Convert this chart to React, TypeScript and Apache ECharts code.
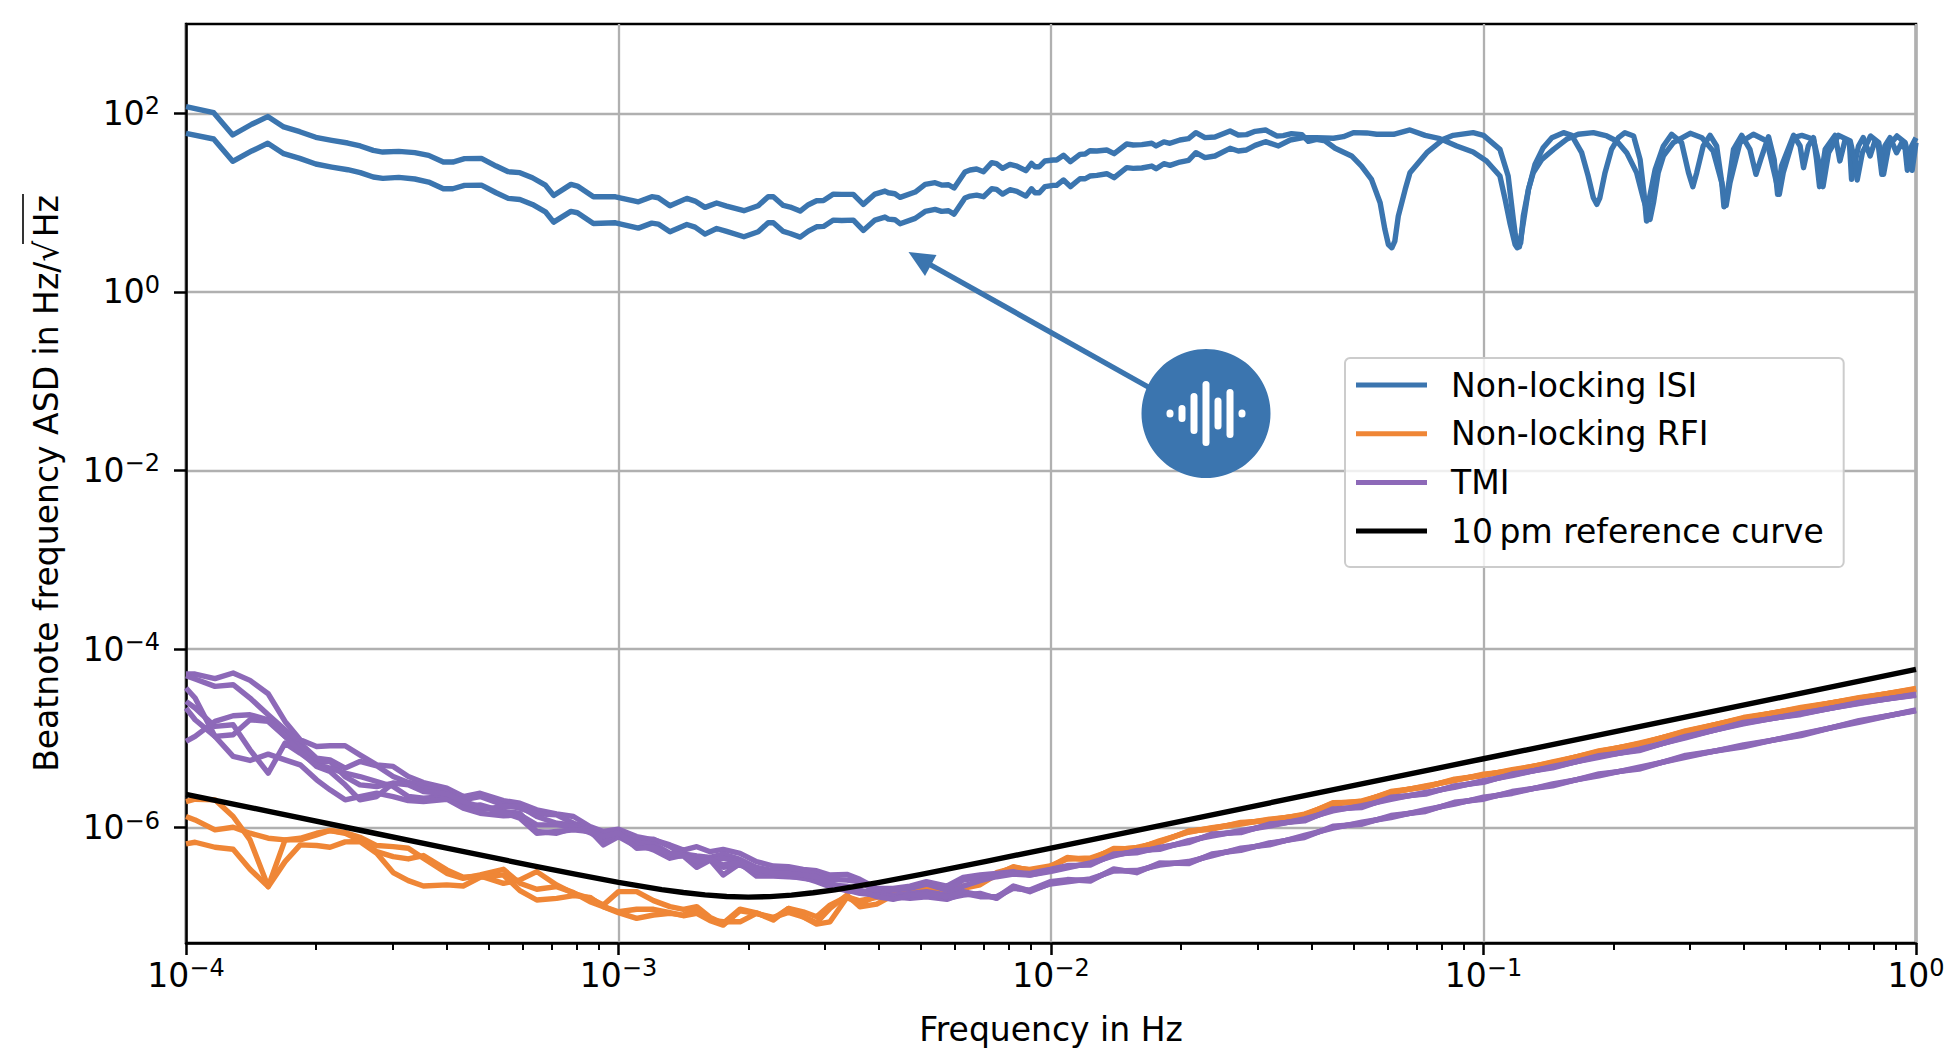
import React, { useEffect, useRef } from "react";
import * as echarts from "echarts";

// all curves as log10(frequency), log10(ASD)
const isiUpper: number[][] = [
  [-4.0, 2.075], [-3.936, 2.007], [-3.892, 1.757], [-3.848, 1.877], [-3.811, 1.963], [-3.774, 1.847], [-3.737, 1.794], [-3.7, 1.731],
  [-3.663, 1.697], [-3.626, 1.667], [-3.597, 1.634], [-3.567, 1.585], [-3.545, 1.566], [-3.508, 1.574], [-3.471, 1.559], [-3.439, 1.529],
  [-3.405, 1.454], [-3.383, 1.454], [-3.356, 1.492], [-3.317, 1.495], [-3.283, 1.409], [-3.255, 1.346], [-3.228, 1.335], [-3.199, 1.278],
  [-3.169, 1.196], [-3.15, 1.08], [-3.11, 1.204], [-3.095, 1.185], [-3.058, 1.065], [-3.007, 1.065],
  [-2.954, 1.009], [-2.923, 1.066], [-2.908, 1.054], [-2.881, 0.965], [-2.842, 1.047], [-2.823, 1.017], [-2.8, 0.946], [-2.773, 0.995],
  [-2.75, 0.961], [-2.71, 0.909], [-2.677, 0.965], [-2.654, 1.066], [-2.642, 1.066], [-2.619, 0.968], [-2.603, 0.95], [-2.58, 0.905],
  [-2.561, 0.976], [-2.542, 1.021], [-2.526, 1.024], [-2.503, 1.095], [-2.484, 1.092], [-2.457, 1.092], [-2.434, 0.98], [-2.407, 1.095],
  [-2.384, 1.129], [-2.376, 1.11], [-2.361, 1.099], [-2.349, 1.058], [-2.314, 1.118], [-2.291, 1.204], [-2.268, 1.223], [-2.253, 1.196],
  [-2.237, 1.2], [-2.224, 1.163], [-2.199, 1.342], [-2.187, 1.365], [-2.172, 1.376], [-2.156, 1.346], [-2.137, 1.447], [-2.126, 1.436],
  [-2.112, 1.383], [-2.095, 1.428], [-2.079, 1.409], [-2.058, 1.357], [-2.045, 1.439], [-2.037, 1.402], [-2.027, 1.402], [-2.014, 1.466],
  [-1.995, 1.477], [-1.987, 1.477], [-1.971, 1.529], [-1.955, 1.458], [-1.933, 1.54], [-1.921, 1.544], [-1.91, 1.581], [-1.894, 1.578],
  [-1.871, 1.589], [-1.854, 1.548], [-1.825, 1.656], [-1.81, 1.645], [-1.79, 1.649], [-1.767, 1.664], [-1.757, 1.634], [-1.739, 1.679],
  [-1.725, 1.664], [-1.702, 1.701], [-1.682, 1.716], [-1.665, 1.783], [-1.644, 1.727], [-1.621, 1.735], [-1.586, 1.802], [-1.567, 1.757],
  [-1.548, 1.761], [-1.528, 1.798], [-1.504, 1.813], [-1.478, 1.746], [-1.463, 1.75], [-1.444, 1.772], [-1.42, 1.761], [-1.405, 1.686],
  [-1.386, 1.709], [-1.366, 1.69], [-1.343, 1.608], [-1.305, 1.522], [-1.282, 1.409], [-1.259, 1.26], [-1.239, 0.998], [-1.228, 0.699],
  [-1.22, 0.531], [-1.212, 0.494], [-1.205, 0.568], [-1.197, 0.849], [-1.181, 1.148], [-1.17, 1.335], [-1.131, 1.559], [-1.093, 1.709],
  [-1.07, 1.753], [-1.024, 1.783], [-1.0, 1.753], [-0.962, 1.596], [-0.943, 1.297], [-0.931, 0.811], [-0.923, 0.512], [-0.917, 0.505],
  [-0.908, 0.774], [-0.896, 1.148], [-0.881, 1.428], [-0.862, 1.615], [-0.842, 1.727], [-0.815, 1.783], [-0.796, 1.753], [-0.773, 1.559],
  [-0.758, 1.297], [-0.746, 1.054], [-0.738, 0.98], [-0.731, 1.054], [-0.719, 1.335], [-0.704, 1.596], [-0.688, 1.727], [-0.673, 1.783],
  [-0.653, 1.746], [-0.638, 1.484], [-0.629, 1.11], [-0.623, 0.793], [-0.617, 1.036], [-0.603, 1.372], [-0.584, 1.634], [-0.565, 1.765],
  [-0.542, 1.671], [-0.526, 1.335], [-0.516, 1.178], [-0.507, 1.335], [-0.492, 1.634], [-0.476, 1.753], [-0.461, 1.634], [-0.449, 1.223],
  [-0.444, 0.953], [-0.436, 1.11], [-0.422, 1.596], [-0.403, 1.753], [-0.384, 1.596], [-0.37, 1.316], [-0.359, 1.484], [-0.341, 1.738],
  [-0.328, 1.484], [-0.32, 1.092], [-0.311, 1.409], [-0.283, 1.753], [-0.268, 1.634], [-0.26, 1.391], [-0.249, 1.634], [-0.237, 1.727],
  [-0.23, 1.484], [-0.223, 1.178], [-0.21, 1.596], [-0.187, 1.753], [-0.176, 1.466], [-0.164, 1.701], [-0.154, 1.671], [-0.149, 1.26],
  [-0.133, 1.634], [-0.122, 1.727], [-0.106, 1.522], [-0.095, 1.69], [-0.087, 1.634], [-0.079, 1.316], [-0.072, 1.634], [-0.06, 1.727],
  [-0.045, 1.559], [-0.033, 1.671], [-0.025, 1.596], [-0.02, 1.361], [-0.01, 1.634], [0, 1.727],
];

const isiLower: number[][] = [
  [-4.0, 1.776], [-3.936, 1.712], [-3.892, 1.462], [-3.848, 1.578], [-3.811, 1.664], [-3.774, 1.548], [-3.737, 1.495], [-3.7, 1.432],
  [-3.663, 1.398], [-3.626, 1.368], [-3.597, 1.335], [-3.567, 1.286], [-3.545, 1.271], [-3.508, 1.282], [-3.471, 1.264], [-3.439, 1.23],
  [-3.405, 1.155], [-3.383, 1.155], [-3.356, 1.193], [-3.317, 1.196], [-3.283, 1.11], [-3.255, 1.047], [-3.228, 1.035], [-3.199, 0.979],
  [-3.169, 0.897], [-3.15, 0.781], [-3.11, 0.901], [-3.095, 0.886], [-3.058, 0.766], [-3.007, 0.774],
  [-2.954, 0.714], [-2.923, 0.77], [-2.908, 0.759], [-2.881, 0.673], [-2.842, 0.755], [-2.823, 0.725], [-2.8, 0.647], [-2.773, 0.71],
  [-2.75, 0.677], [-2.71, 0.617], [-2.677, 0.673], [-2.654, 0.774], [-2.642, 0.774], [-2.619, 0.677], [-2.603, 0.654], [-2.58, 0.613],
  [-2.561, 0.68], [-2.542, 0.729], [-2.526, 0.733], [-2.503, 0.804], [-2.484, 0.8], [-2.457, 0.804], [-2.434, 0.688], [-2.407, 0.804],
  [-2.384, 0.838], [-2.376, 0.815], [-2.361, 0.808], [-2.349, 0.763], [-2.314, 0.823], [-2.291, 0.901], [-2.268, 0.923], [-2.253, 0.901],
  [-2.237, 0.909], [-2.224, 0.871], [-2.199, 1.051], [-2.187, 1.073], [-2.172, 1.084], [-2.156, 1.066], [-2.137, 1.155], [-2.126, 1.148],
  [-2.112, 1.095], [-2.095, 1.144], [-2.079, 1.125], [-2.058, 1.073], [-2.045, 1.155], [-2.037, 1.11], [-2.027, 1.11], [-2.014, 1.178],
  [-1.995, 1.193], [-1.987, 1.193], [-1.971, 1.253], [-1.955, 1.178], [-1.933, 1.267], [-1.921, 1.267], [-1.91, 1.297], [-1.894, 1.305],
  [-1.871, 1.323], [-1.854, 1.279], [-1.825, 1.391], [-1.81, 1.383], [-1.79, 1.387], [-1.767, 1.409], [-1.757, 1.38], [-1.739, 1.436],
  [-1.725, 1.417], [-1.702, 1.454], [-1.682, 1.473], [-1.665, 1.559], [-1.644, 1.503], [-1.621, 1.522], [-1.586, 1.608], [-1.567, 1.578],
  [-1.548, 1.589], [-1.528, 1.641], [-1.504, 1.682], [-1.474, 1.634], [-1.447, 1.701], [-1.417, 1.727], [-1.386, 1.727], [-1.347, 1.72],
  [-1.324, 1.738], [-1.301, 1.783], [-1.27, 1.78], [-1.247, 1.765], [-1.208, 1.765], [-1.17, 1.813], [-1.135, 1.753], [-1.101, 1.716],
  [-1.062, 1.634], [-1.024, 1.567], [-0.993, 1.466], [-0.962, 1.297], [-0.95, 1.036], [-0.939, 0.774], [-0.927, 0.531], [-0.922, 0.494],
  [-0.914, 0.55], [-0.908, 0.849], [-0.896, 1.148], [-0.885, 1.335], [-0.865, 1.484], [-0.838, 1.596], [-0.808, 1.709], [-0.781, 1.765],
  [-0.746, 1.783], [-0.715, 1.746], [-0.692, 1.69], [-0.669, 1.559], [-0.646, 1.335], [-0.63, 1.036], [-0.615, 0.811], [-0.607, 0.998],
  [-0.596, 1.335], [-0.584, 1.522], [-0.561, 1.671], [-0.522, 1.776], [-0.495, 1.727], [-0.469, 1.578], [-0.449, 1.223], [-0.439, 0.968],
  [-0.43, 1.223], [-0.407, 1.671], [-0.376, 1.765], [-0.345, 1.69], [-0.326, 1.297], [-0.316, 1.092], [-0.307, 1.335], [-0.283, 1.727],
  [-0.264, 1.753], [-0.237, 1.709], [-0.221, 1.372], [-0.215, 1.178], [-0.202, 1.559], [-0.179, 1.753], [-0.152, 1.69], [-0.14, 1.428],
  [-0.136, 1.253], [-0.124, 1.559], [-0.105, 1.746], [-0.086, 1.671], [-0.075, 1.316], [-0.063, 1.634], [-0.044, 1.746], [-0.025, 1.671],
  [-0.009, 1.361], [0, 1.671],
];

// frequency grid shared by the RFI and TMI curves
const lowLogFreq = [
  -4.0, -3.979, -3.933, -3.891, -3.852, -3.81, -3.771, -3.736, -3.698, -3.667, -3.632, -3.598, -3.559, -3.521, -3.486,
  -3.451, -3.397, -3.359, -3.32, -3.266, -3.228, -3.189, -3.143, -3.104, -3.066, -3.035, -3.0, -2.958, -2.919, -2.881,
  -2.85, -2.819, -2.788, -2.758, -2.719, -2.681, -2.642, -2.607, -2.573, -2.542, -2.511, -2.472, -2.442, -2.403, -2.365,
  -2.326, -2.288, -2.241, -2.203, -2.164, -2.126, -2.087, -2.049, -2.002,
  -1.962, -1.909, -1.855, -1.802, -1.749, -1.682, -1.628, -1.561, -1.495, -1.414, -1.348, -1.281, -1.214, -1.134, -1.067,
  -1.0, -0.934, -0.84, -0.733, -0.64, -0.533, -0.399, -0.266, -0.132, 0,
];

const rfiA = [
  -5.708, -5.682, -5.689, -5.876, -6.138, -6.661, -6.138, -6.138, -6.082, -6.033, -6.063, -6.138, -6.269, -6.325, -6.351,
  -6.313, -6.474, -6.556, -6.541, -6.624, -6.586, -6.493, -6.642, -6.736, -6.792, -6.867, -6.717, -6.717, -6.818, -6.885,
  -6.916, -6.886, -7.006, -7.073, -6.913, -6.954, -7.036, -6.905, -6.999, -7.066, -6.905, -6.756, -6.886, -6.857, -6.756,
  -6.7, -6.681, -6.729, -6.67, -6.632, -6.52, -6.445, -6.475, -6.445,
  -6.343, -6.355, -6.242, -6.231, -6.156, -6.044, -6.007, -5.951, -5.914, -5.857, -5.727, -5.708, -5.603, -5.54, -5.465,
  -5.409, -5.36, -5.271, -5.147, -5.061, -4.923, -4.773, -4.661, -4.549, -4.448,
];
const rfiB = [
  -5.876, -5.914, -6.026, -5.996, -6.063, -6.119, -6.138, -6.119, -6.063, -6.033, -6.056, -6.108, -6.201, -6.213, -6.231,
  -6.343, -6.512, -6.568, -6.53, -6.467, -6.624, -6.691, -6.661, -6.728, -6.829, -6.885, -6.953, -7.016, -6.979, -6.96,
  -6.98, -6.901, -7.036, -7.055, -7.055, -6.961, -7.006, -6.95, -6.999, -7.081, -7.055, -6.782, -6.849, -6.767, -6.756,
  -6.718, -6.692, -6.737, -6.655, -6.625, -6.505, -6.453, -6.468, -6.43,
  -6.352, -6.34, -6.251, -6.222, -6.168, -6.038, -6.018, -5.942, -5.925, -5.849, -5.738, -5.7, -5.612, -5.533, -5.474,
  -5.402, -5.369, -5.265, -5.155, -5.055, -4.93, -4.767, -4.668, -4.544, -4.454,
];
const rfiC = [
  -6.183, -6.164, -6.22, -6.242, -6.467, -6.661, -6.381, -6.194, -6.201, -6.22, -6.16, -6.156, -6.287, -6.504, -6.594,
  -6.654, -6.642, -6.654, -6.556, -6.53, -6.706, -6.811, -6.792, -6.762, -6.781, -6.885, -6.942, -6.915, -6.915, -6.953,
  -6.987, -6.961, -7.043, -7.092, -6.931, -6.961, -7.017, -6.905, -6.943, -6.999, -6.868, -6.774, -6.819, -6.782, -6.744,
  -6.707, -6.67, -6.718, -6.681, -6.64, -6.528, -6.438, -6.483, -6.438,
  -6.334, -6.364, -6.233, -6.24, -6.148, -6.052, -6.0, -5.96, -5.906, -5.865, -5.72, -5.715, -5.596, -5.546, -5.458,
  -5.416, -5.352, -5.278, -5.14, -5.068, -4.916, -4.78, -4.655, -4.555, -4.442,
];

const tmiA = [
  -4.28, -4.28, -4.332, -4.269, -4.351, -4.501, -4.811, -5.016, -5.091, -5.084, -5.084, -5.185, -5.297, -5.315, -5.428,
  -5.495, -5.558, -5.652, -5.615, -5.697, -5.727, -5.801, -5.846, -5.876, -5.988, -6.044, -6.018, -6.1, -6.138, -6.194,
  -6.251, -6.214, -6.27, -6.244, -6.288, -6.382, -6.43, -6.438, -6.468, -6.483, -6.531, -6.524, -6.58, -6.681, -6.681,
  -6.655, -6.606, -6.655, -6.558, -6.531, -6.513, -6.494, -6.531, -6.483,
  -6.437, -6.407, -6.306, -6.269, -6.231, -6.156, -6.082, -6.044, -5.97, -5.914, -5.801, -5.764, -5.671, -5.615, -5.54,
  -5.484, -5.409, -5.323, -5.203, -5.129, -4.986, -4.83, -4.725, -4.605, -4.512,
];
const tmiB = [
  -4.299, -4.336, -4.418, -4.4, -4.549, -4.736, -4.904, -5.054, -5.222, -5.241, -5.334, -5.259, -5.308, -5.428, -5.495,
  -5.521, -5.577, -5.689, -5.652, -5.745, -5.783, -5.846, -5.857, -5.951, -6.007, -6.063, -6.033, -6.138, -6.13, -6.213,
  -6.296, -6.318, -6.333, -6.296, -6.356, -6.445, -6.483, -6.468, -6.494, -6.52, -6.58, -6.587, -6.606, -6.718, -6.7,
  -6.681, -6.632, -6.7, -6.587, -6.558, -6.531, -6.505, -6.513, -6.468,
  -6.425, -6.42, -6.295, -6.282, -6.222, -6.168, -6.072, -6.056, -5.96, -5.925, -5.79, -5.775, -5.66, -5.625, -5.532,
  -5.493, -5.4, -5.33, -5.195, -5.138, -4.978, -4.838, -4.718, -4.612, -4.506,
];
const tmiC = [
  -4.437, -4.549, -4.979, -4.96, -4.792, -4.811, -4.979, -5.091, -5.278, -5.259, -5.428, -5.521, -5.54, -5.502, -5.51,
  -5.558, -5.607, -5.727, -5.801, -5.764, -5.764, -5.876, -5.951, -5.97, -6.026, -6.082, -6.082, -6.168, -6.183, -6.287,
  -6.307, -6.363, -6.363, -6.344, -6.382, -6.513, -6.531, -6.524, -6.55, -6.569, -6.643, -6.655, -6.7, -6.756, -6.756,
  -6.737, -6.718, -6.756, -6.655, -6.595, -6.55, -6.52, -6.531, -6.494,
  -6.45, -6.395, -6.318, -6.258, -6.243, -6.145, -6.094, -6.035, -5.982, -5.903, -5.812, -5.753, -5.683, -5.605, -5.55,
  -5.475, -5.418, -5.315, -5.212, -5.12, -4.995, -4.822, -4.733, -4.598, -4.518,
];
const tmiD = [
  -4.587, -4.661, -4.867, -4.848, -5.129, -5.39, -5.054, -5.166, -5.297, -5.334, -5.39, -5.428, -5.484, -5.54, -5.652,
  -5.671, -5.652, -5.764, -5.745, -5.82, -5.839, -6.044, -6.063, -6.007, -6.033, -6.194, -6.1, -6.213, -6.231, -6.317,
  -6.318, -6.445, -6.363, -6.531, -6.401, -6.543, -6.543, -6.55, -6.558, -6.606, -6.662, -6.707, -6.718, -6.707, -6.793,
  -6.774, -6.767, -6.793, -6.756, -6.737, -6.793, -6.662, -6.718, -6.625,
  -6.594, -6.586, -6.474, -6.493, -6.407, -6.392, -6.306, -6.242, -6.183, -6.1, -5.996, -5.951, -5.876, -5.809, -5.727,
  -5.671, -5.607, -5.521, -5.409, -5.334, -5.203, -5.084, -4.96, -4.811, -4.687,
];
const tmiE = [
  -4.661, -4.792, -4.979, -5.203, -5.248, -5.177, -5.241, -5.297, -5.465, -5.577, -5.689, -5.652, -5.615, -5.652, -5.697,
  -5.708, -5.682, -5.783, -5.839, -5.869, -5.857, -5.97, -5.97, -5.988, -6.056, -6.138, -6.063, -6.183, -6.25, -6.343,
  -6.307, -6.363, -6.344, -6.445, -6.419, -6.494, -6.52, -6.543, -6.569, -6.587, -6.655, -6.7, -6.737, -6.756, -6.774,
  -6.793, -6.774, -6.804, -6.737, -6.774, -6.774, -6.681, -6.7, -6.606,
  -6.582, -6.598, -6.462, -6.505, -6.395, -6.404, -6.295, -6.254, -6.172, -6.112, -5.985, -5.962, -5.865, -5.82, -5.716,
  -5.682, -5.596, -5.532, -5.398, -5.345, -5.192, -5.095, -4.95, -4.82, -4.681,
];
const tmiF = [
  -5.035, -4.979, -4.811, -4.747, -4.736, -4.792, -4.979, -5.147, -5.315, -5.371, -5.521, -5.689, -5.652, -5.502, -5.521,
  -5.596, -5.622, -5.708, -5.764, -5.831, -5.895, -6.063, -6.044, -6.026, -6.044, -6.1, -6.056, -6.231, -6.22, -6.306,
  -6.307, -6.382, -6.356, -6.419, -6.393, -6.457, -6.513, -6.513, -6.531, -6.55, -6.625, -6.681, -6.707, -6.774, -6.804,
  -6.756, -6.744, -6.774, -6.718, -6.756, -6.782, -6.655, -6.707, -6.632,
  -6.606, -6.574, -6.486, -6.481, -6.419, -6.38, -6.317, -6.23, -6.194, -6.088, -6.007, -5.94, -5.887, -5.798, -5.738,
  -5.66, -5.618, -5.51, -5.42, -5.323, -5.214, -5.073, -4.97, -4.802, -4.693,
];

const refLogFreq = [-4, -3.8, -3.6, -3.4, -3.2, -3.1, -3, -2.9, -2.85, -2.8, -2.75, -2.7, -2.65, -2.6, -2.55, -2.5, -2.4, -2.3, -2.15, -2, -1, 0];
const refLogAsd = [
  -5.627, -5.827, -6.027, -6.228, -6.425, -6.522, -6.614, -6.694, -6.727, -6.754, -6.772, -6.779, -6.773, -6.756, -6.73, -6.697, -6.616, -6.524, -6.379,
  -6.229, -5.229, -4.229,
];

const xMajorTicks = [1e-4, 1e-3, 1e-2, 1e-1, 1];
const yMajorTicks = [1e-6, 1e-4, 1e-2, 1, 1e2];
const legendNames = ["Non-locking ISI", "Non-locking RFI", "TMI", "10\u2009pm reference curve"];

const xMinorTicks: number[] = [];
for (let exp = -4; exp < 0; exp++) {
  for (let m = 2; m < 10; m++) xMinorTicks.push(m * 10 ** exp);
}

const BLUE = "#3b75af";
const ORANGE = "#ef8636";
const PURPLE = "#8d69b8";
const FONT = "DejaVu Sans";
const FONT_SIZE = 33;

const fromPairs = (pairs: number[][]) => pairs.map(([f, a]) => [10 ** f, 10 ** a]);
const fromGrid = (logFreq: number[], logAsd: number[]) => logFreq.map((f, i) => [10 ** f, 10 ** logAsd[i]]);

const powerLabel = (value: number) => {
  const exp = Math.round(Math.log10(value));
  return `{base|10}{sup|${exp < 0 ? "\u2212" + -exp : exp}}`;
};

const labelRich = {
  base: { fontFamily: FONT, fontSize: FONT_SIZE, color: "#000" },
  sup: { fontFamily: FONT, fontSize: 24, color: "#000", padding: [0, 0, 14, 0] },
};

const line = (name: string, color: string, data: number[][]) => ({
  name,
  type: "line",
  data,
  symbol: "none",
  silent: true,
  lineStyle: { color, width: 5.4, join: "round" },
  itemStyle: { color },
});

// waveform glyph inside the badge: [x, height]
const badgeBars = [
  [1170, 8],
  [1182, 17],
  [1194, 41],
  [1206, 65],
  [1218, 32],
  [1230, 49],
  [1242, 8],
];

export default function App() {
  const chartRef = useRef<HTMLDivElement>(null);

  useEffect(() => {
    const chart = echarts.init(chartRef.current!, undefined, { renderer: "svg" });

    chart.setOption({
      animation: false,
      backgroundColor: "#fff",
      grid: {
        left: 186,
        top: 24,
        width: 1730,
        height: 919,
        show: true,
        borderColor: "#000",
        borderWidth: 2.5,
      },
      xAxis: [
        {
          type: "log",
          min: 1e-4,
          max: 1,
          name: "Frequency in Hz",
          nameLocation: "middle",
          nameGap: 70,
          nameTextStyle: { fontFamily: FONT, fontSize: FONT_SIZE, color: "#000" },
          axisLine: { show: true, onZero: false, lineStyle: { color: "#000", width: 2.5 } },
          axisTick: { show: true, customValues: xMajorTicks, length: 12, lineStyle: { color: "#000", width: 2.5 } },
          axisLabel: {
            customValues: xMajorTicks,
            formatter: powerLabel,
            rich: labelRich,
            margin: 13,
            hideOverlap: false,
            showMinLabel: true,
            showMaxLabel: true,
          },
          splitLine: { show: true, lineStyle: { color: "#b0b0b0", width: 2.3 } },
        },
        {
          type: "log",
          min: 1e-4,
          max: 1,
          position: "bottom",
          axisLine: { show: false },
          axisTick: { show: true, customValues: xMinorTicks, length: 7, lineStyle: { color: "#000", width: 2 } },
          axisLabel: { show: false },
          splitLine: { show: false },
        },
      ],
      yAxis: {
        type: "log",
        min: 5.1e-8,
        max: 1e3,
        name: "Beatnote frequency ASD in Hz/\u221a\u200aHz",
        nameLocation: "middle",
        nameRotate: 90,
        nameGap: 123,
        nameTextStyle: { fontFamily: FONT, fontSize: FONT_SIZE, color: "#000" },
        axisLine: { show: true, onZero: false, lineStyle: { color: "#000", width: 2.5 } },
        axisTick: { show: true, customValues: yMajorTicks, length: 12, lineStyle: { color: "#000", width: 2.5 } },
        axisLabel: {
          customValues: yMajorTicks,
          formatter: powerLabel,
          rich: labelRich,
          margin: 26,
          showMinLabel: true,
          showMaxLabel: true,
        },
        splitLine: { show: true, lineStyle: { color: "#b0b0b0", width: 2.3 } },
      },
      legend: {
        data: legendNames,
        left: 1345,
        top: 358,
        orient: "vertical",
        align: "left",
        icon: "rect",
        padding: [10.5, 20, 19.5, 11],
        itemWidth: 71,
        itemHeight: 5,
        itemGap: 15.7,
        backgroundColor: "rgba(255,255,255,0.8)",
        borderColor: "#ccc",
        borderWidth: 2,
        borderRadius: 5,
        textStyle: { fontFamily: FONT, fontSize: FONT_SIZE, color: "#000", padding: [0, 0, 0, 19] },
      },
      series: [
        line(legendNames[0], BLUE, fromPairs(isiUpper)),
        line(legendNames[0], BLUE, fromPairs(isiLower)),
        line(legendNames[1], ORANGE, fromGrid(lowLogFreq, rfiA)),
        line(legendNames[1], ORANGE, fromGrid(lowLogFreq, rfiB)),
        line(legendNames[1], ORANGE, fromGrid(lowLogFreq, rfiC)),
        line(legendNames[2], PURPLE, fromGrid(lowLogFreq, tmiA)),
        line(legendNames[2], PURPLE, fromGrid(lowLogFreq, tmiB)),
        line(legendNames[2], PURPLE, fromGrid(lowLogFreq, tmiC)),
        line(legendNames[2], PURPLE, fromGrid(lowLogFreq, tmiD)),
        line(legendNames[2], PURPLE, fromGrid(lowLogFreq, tmiE)),
        line(legendNames[2], PURPLE, fromGrid(lowLogFreq, tmiF)),
        line(legendNames[3], "#000", fromGrid(refLogFreq, refLogAsd)),
      ],
      graphic: [
        // vinculum of the square root in the y label
        { type: "line", z: 10, shape: { x1: 23, y1: 194, x2: 23, y2: 244 }, style: { stroke: "#000", lineWidth: 1.6 } },
        // arrow from the badge to the ISI curves
        { type: "line", z: 10, shape: { x1: 1150, y1: 388, x2: 920, y2: 259 }, style: { stroke: BLUE, lineWidth: 5.4 } },
        {
          type: "polygon",
          z: 10,
          shape: { points: [[908.5, 252], [936.5, 255], [925, 276]] },
          style: { fill: BLUE },
        },
        { type: "circle", z: 11, shape: { cx: 1206, cy: 413.5, r: 64.5 }, style: { fill: BLUE } },
        ...badgeBars.map(([x, h]) => ({
          type: "rect",
          z: 12,
          shape: { x: x - 3.5, y: 413.5 - h / 2, width: 7, height: h, r: 3.5 },
          style: { fill: "#fff" },
        })),
      ],
    });

    return () => {
      chart.dispose();
    };
  }, []);

  return <div ref={chartRef} style={{ position: "absolute", left: 0, top: 0, width: 1956, height: 1062 }} />;
}
